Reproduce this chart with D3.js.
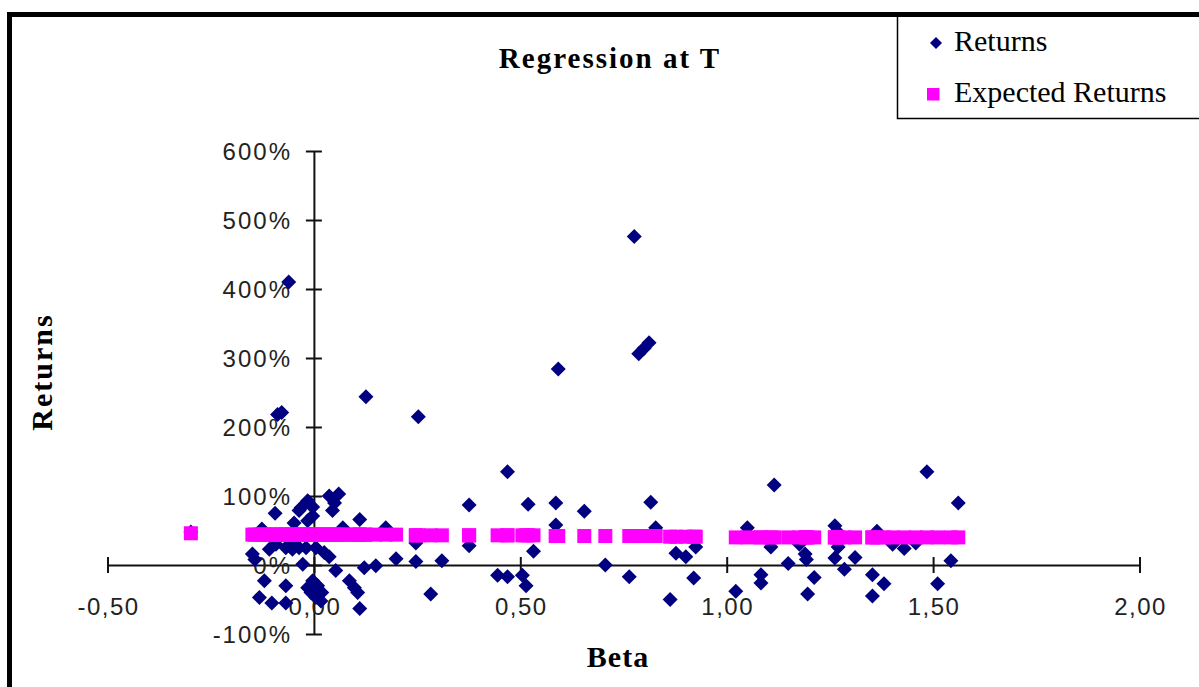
<!DOCTYPE html>
<html><head><meta charset="utf-8">
<script src="https://cdn.jsdelivr.net/npm/d3@7"></script>
<style>html,body{margin:0;padding:0;background:#fff;}svg{display:block;}</style>
</head><body>
<svg id="c" width="1199" height="687"></svg>
<script>
const chartTitle = "Regression at T";
const xTitle = "Beta";
const yTitle = "Returns";
const seriesNames = ["Returns", "Expected Returns"];
const xTicks = [-0.5, 0, 0.5, 1, 1.5, 2];
const xTickLabels = ["-0,50", "0,00", "0,50", "1,00", "1,50", "2,00"];
const yTicks = [-100, 0, 100, 200, 300, 400, 500, 600];
const yTickLabels = ["-100%", "0%", "100%", "200%", "300%", "400%", "500%", "600%"];

const betas = [
 -0.061,-0.088,-0.078,0.126,0.253,0.592,0.776,0.787,0.800,0.812,
 1.485,1.561,1.115,0.469,0.376,0.519,0.586,0.655,0.816,0.586,
 0.828,0.532,0.706,0.764,0.863,0.877,0.901,0.925,0.920,0.199,
 0.247,0.247,0.310,0.283,0.376,0.445,0.469,0.505,0.514,1.022,
 1.050,1.083,1.083,1.107,1.149,1.176,1.190,1.193,1.212,1.196,
 1.262,1.267,1.270,1.262,1.285,1.311,1.364,1.402,1.430,1.458,
 1.353,1.381,1.353,1.511,1.543,
 0.060,0.037,0.045,0.050,-0.015,-0.031,-0.036,-0.003,-0.003,-0.015,
 -0.094,-0.048,0.111,-0.126,0.070,0.174,0.005,0.025,0.037,-0.019,
 -0.036,-0.052,-0.068,-0.052,-0.108,-0.092,-0.149,-0.143,-0.027,0.053,
 0.122,0.150,-0.120,-0.068,-0.003,-0.015,0.009,0.019,-0.007,0.005,
 0.017,0.086,0.098,0.106,-0.132,-0.102,-0.068,0.111,-0.298
];
const returnsPct = [
 410,218,221,244,215,284,476,306,314,322,
 135,90,116,135,87,88,90,78,91,58,
 54,20,0,-17,-50,17,12,26,-19,9,
 5,32,6,-42,28,-15,-17,-15,-30,-38,
 54,-14,-26,26,2,30,16,8,-18,-42,
 57,49,26,10,-6,11,49,30,24,32,
 -14,-27,-45,-27,6,
 103,100,79,90,93,83,79,84,71,64,
 75,61,66,52,54,54,25,18,12,25,
 25,23,25,32,23,30,16,8,1,-8,
 -4,-1,-23,-30,-23,-33,-30,-40,-40,-47,
 -52,-23,-33,-40,-47,-55,-55,-63,48
];
const expectedPct = [
 44,44,44,44,43,42,42,42,42,42,
 40,40,40,43,43,43,42,42,42,42,
 42,43,42,42,41,41,41,41,41,44,
 43,43,43,43,43,43,43,43,43,40,
 40,40,40,40,40,40,40,40,40,40,
 40,40,40,40,40,40,40,40,40,40,
 40,40,40,40,40,
 44,44,44,44,44,44,44,44,44,44,
 44,44,44,44,44,44,44,44,44,44,
 44,44,44,44,44,44,44,44,44,44,
 44,44,44,44,44,44,44,44,44,44,
 44,44,44,44,44,44,44,44,46
];

const svg = d3.select("#c");
const x = d3.scaleLinear().domain([-0.5, 2]).range([107.5, 1139.5]);
const y = d3.scaleLinear().domain([-100, 600]).range([634, 151]);

// outer border
svg.append("rect").attr("x", 9.5).attr("y", 14.5).attr("width", 1210).attr("height", 700)
  .attr("fill", "#fff").attr("stroke", "#000").attr("stroke-width", 5);

// title
svg.append("text").attr("x", 610).attr("y", 68).attr("text-anchor", "middle")
  .attr("font-family", "Liberation Serif, Times New Roman, serif").attr("font-weight", "bold")
  .attr("font-size", 29).attr("letter-spacing", 2).text(chartTitle);

// axes
const xAxis = d3.axisBottom(x).tickValues(xTicks).tickSize(0).tickFormat("");
const yAxis = d3.axisLeft(y).tickValues(yTicks).tickSize(0).tickFormat("");
const gx = svg.append("g").attr("transform", `translate(0,${y(0)})`).call(xAxis);
const gy = svg.append("g").attr("transform", `translate(${x(0)},0)`).call(yAxis);
[gx, gy].forEach(g => g.select(".domain").attr("stroke", "#111").attr("stroke-width", 2));
gx.selectAll(".tick").append("line").attr("y1", -8).attr("y2", 8).attr("stroke", "#111").attr("stroke-width", 2);
gy.selectAll(".tick").append("line").attr("x1", -8).attr("x2", 8).attr("stroke", "#111").attr("stroke-width", 2);

const tickFont = "Liberation Sans, Arial, sans-serif";
svg.append("g").selectAll("text").data(xTicks).join("text")
  .attr("x", d => x(d) + 1).attr("y", 615).attr("text-anchor", "middle")
  .attr("font-family", tickFont).attr("font-size", 24).attr("letter-spacing", 1.5).attr("fill", "#222")
  .text((d, i) => xTickLabels[i]);
svg.append("g").selectAll("text").data(yTicks).join("text")
  .attr("x", 292).attr("y", d => y(d) + 8.5).attr("text-anchor", "end")
  .attr("font-family", tickFont).attr("font-size", 24).attr("letter-spacing", 2).attr("fill", "#222")
  .text((d, i) => yTickLabels[i]);

// axis titles
svg.append("text").attr("x", 618).attr("y", 667).attr("text-anchor", "middle")
  .attr("font-family", "Liberation Serif, Times New Roman, serif").attr("font-weight", "bold")
  .attr("font-size", 30).attr("letter-spacing", 1).text(xTitle);
svg.append("text").attr("transform", "translate(52,372) rotate(-90)").attr("text-anchor", "middle")
  .attr("font-family", "Liberation Serif, Times New Roman, serif").attr("font-weight", "bold")
  .attr("font-size", 30).attr("letter-spacing", 2).text(yTitle);

// data
const pts = betas.map((b, i) => ({b, r: returnsPct[i], e: expectedPct[i]}));
const diamond = "M0,-7.5L7.5,0L0,7.5L-7.5,0Z";
svg.append("g").selectAll("path").data(pts).join("path")
  .attr("d", diamond).attr("transform", d => `translate(${x(d.b)},${y(d.r)})`)
  .attr("fill", "#000080");
svg.append("g").selectAll("rect").data(pts).join("rect")
  .attr("x", d => x(d.b) - 7).attr("y", d => y(d.e) - 7).attr("width", 14).attr("height", 14)
  .attr("fill", "#FF00FF");

// legend
svg.append("rect").attr("x", 897.5).attr("y", 14.5).attr("width", 320).attr("height", 104)
  .attr("fill", "#fff").attr("stroke", "#000").attr("stroke-width", 1.5);
svg.append("rect").attr("x", 897.5).attr("y", 12).attr("width", 320).attr("height", 5).attr("fill", "#000");
svg.append("path").attr("d", "M0,-6L6,0L0,6L-6,0Z").attr("transform", "translate(936,43)").attr("fill", "#000080");
svg.append("rect").attr("x", 927).attr("y", 88).attr("width", 12.5).attr("height", 12.5).attr("fill", "#FF00FF");
const legFont = "Liberation Serif, Times New Roman, serif";
svg.append("text").attr("x", 954).attr("y", 51).attr("font-family", legFont).attr("font-size", 30).text(seriesNames[0]);
svg.append("text").attr("x", 954).attr("y", 102).attr("font-family", legFont).attr("font-size", 30).text(seriesNames[1]);
</script>
</body></html>
